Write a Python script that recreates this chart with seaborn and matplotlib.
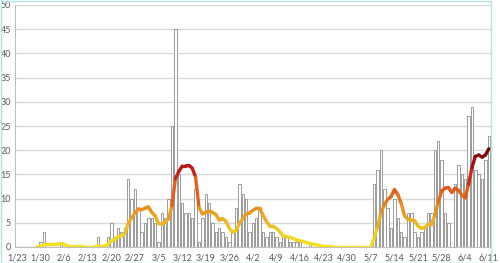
import numpy as np
import pandas as pd
import matplotlib
matplotlib.use("Agg")
import matplotlib.pyplot as plt
import seaborn as sns
from matplotlib.collections import LineCollection
from matplotlib.colors import LinearSegmentedColormap, Normalize
from matplotlib.patches import Rectangle

# ---- data (daily counts from 1/23 to 6/11) ----
start_date = "2020-01-23"
daily_cases = [
    0, 0, 0, 0, 0, 0, 0, 1, 3, 0,        # 1/23 - 2/1
    0, 0, 0, 1, 0, 0, 0, 0, 0, 0,        # 2/2 - 2/11
    0, 0, 0, 0, 2, 0, 0, 2, 5, 2,        # 2/12 - 2/21
    4, 3, 4, 14, 10, 12, 8, 3, 5, 6,     # 2/22 - 3/2
    6, 5, 1, 7, 6, 10, 25, 45, 15, 9,    # 3/3 - 3/12
    7, 7, 6, 12, 1, 6, 11, 9, 5, 3,      # 3/13 - 3/22
    4, 3, 2, 1, 3, 8, 13, 11, 10, 3,     # 3/23 - 4/1
    5, 6, 8, 3, 2, 3, 3, 2, 1, 2,        # 4/2 - 4/11
    2, 1, 1, 1, 1, 0, 0, 1, 0, 0,        # 4/12 - 4/21
    0, 0, 0, 0, 0, 0, 0, 0, 0, 0,        # 4/22 - 5/1
    0, 0, 0, 0, 0, 0, 13, 16, 20, 12,    # 5/2 - 5/11
    8, 4, 10, 6, 3, 2, 7, 7, 3, 2,       # 5/12 - 5/21
    3, 4, 7, 7, 20, 22, 18, 7, 5, 0,     # 5/22 - 5/31
    13, 17, 15, 14, 27, 29, 16, 15, 14, 18,  # 6/1 - 6/10
    23,                                   # 6/11
]
tick_labels = ["1/23", "1/30", "2/6", "2/13", "2/20", "2/27", "3/5", "3/12",
               "3/19", "3/26", "4/2", "4/9", "4/16", "4/23", "4/30", "5/7",
               "5/14", "5/21", "5/28", "6/4", "6/11"]
y_ticks = [0, 5, 10, 15, 20, 25, 30, 35, 40, 45, 50]
avg_window = 7

# ---- style ----
sns.set_theme(style="white")
plt.rcParams["font.family"] = ["Lato", "DejaVu Sans"]
text_color = "#595959"

df = pd.DataFrame({
    "date": pd.date_range(start_date, periods=len(daily_cases), freq="D"),
    "cases": daily_cases,
})
df["day"] = np.arange(len(df))
df["avg"] = df["cases"].rolling(avg_window).mean()

fig = plt.figure(figsize=(5.0, 2.63), dpi=100)
ax = fig.add_axes([15.3 / 500, 16 / 263, 475.2 / 500, 242 / 263])

sns.barplot(data=df, x="day", y="cases", color="white", saturation=1,
            edgecolor="#8c8c8c", linewidth=0.6, width=0.72, ax=ax, zorder=2)

# gradient-coloured moving average line (colour by value)
cmap = LinearSegmentedColormap.from_list("heat", [
    (0.00, "#f4e41e"),
    (0.15, "#f1cc22"),
    (0.30, "#eca21e"),
    (0.42, "#e8861a"),
    (0.57, "#e2561a"),
    (0.70, "#cf2616"),
    (0.81, "#b51212"),
    (0.90, "#850a0a"),
    (1.00, "#5e0202"),
])
norm = Normalize(vmin=0, vmax=21)
valid = df.dropna(subset=["avg"])
pts = np.column_stack([valid["day"].to_numpy(float), valid["avg"].to_numpy()])
segs = np.stack([pts[:-1], pts[1:]], axis=1)
seg_vals = (pts[:-1, 1] + pts[1:, 1]) / 2
lc = LineCollection(segs, colors=cmap(norm(seg_vals)), linewidths=2.4,
                    capstyle="round", joinstyle="round", zorder=4)
ax.add_collection(lc)

ax.set_xlim(-0.5, len(df) - 0.5)
ax.set_ylim(0, 50)
ax.set_xticks(np.arange(0, len(df), 7))
ax.set_xticklabels(tick_labels)
ax.set_yticks(y_ticks)
ax.set_yticklabels([str(v) for v in y_ticks])
ax.set_xlabel("")
ax.set_ylabel("")
ax.tick_params(axis="both", length=0, labelsize=6.5, colors=text_color)
ax.tick_params(axis="x", pad=5)
ax.tick_params(axis="y", pad=3)

ax.yaxis.grid(True, color="#d9d9d9", linewidth=1.0, zorder=0)
ax.xaxis.grid(False)
ax.set_axisbelow(True)
for side in ("top", "right"):
    ax.spines[side].set_visible(False)
for side in ("left", "bottom"):
    ax.spines[side].set_color("#bfbfbf")
    ax.spines[side].set_linewidth(0.8)

fig.add_artist(Rectangle((0.5 / 500, 0.5 / 263), 490.5 / 500, 262 / 263,
                         transform=fig.transFigure, fill=False,
                         edgecolor="#b3e5e5", linewidth=1.0))

fig.savefig("out.png", dpi=100)
